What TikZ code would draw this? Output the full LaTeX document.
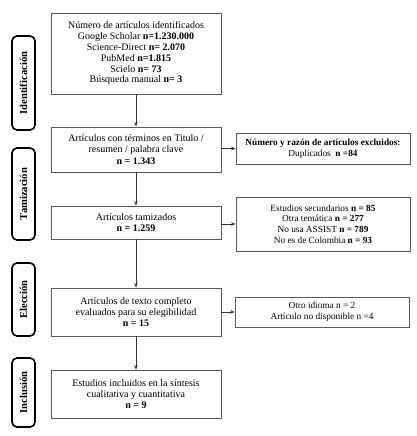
\documentclass[tikz,border=0pt]{standalone}
\usepackage{fontspec}
\setmainfont{Liberation Serif}
\usetikzlibrary{arrows.meta}
\begin{document}
\begin{tikzpicture}[x=1pt,y=-1pt,
  mainbox/.style={draw=black!65,line width=0.8pt,minimum width=170pt,align=center,inner sep=1pt,
    font=\fontsize{10}{11.2}\selectfont},
  sidebox/.style={draw=black!65,line width=0.8pt,minimum width=174pt,align=center,inner sep=1pt,
    font=\fontsize{9.3}{10.6}\selectfont},
  phase/.style={draw=black,line width=1.6pt,rounded corners=5pt,minimum height=23pt,inner sep=0pt,
    rotate=90,font=\fontsize{10.6}{12}\selectfont\bfseries},
  arr/.style={-{Stealth[length=4.5pt,width=3.5pt]},black!80,line width=0.8pt}]
\useasboundingbox (0,0) rectangle (417,436);
\fill[white] (0,0) rectangle (417,436);
% main column
\node[mainbox,minimum height=81pt,font=\fontsize{10}{10.8}\selectfont] (b1) at (136,53.5)
  {Número de artículos identificados\\
   Google Scholar \textbf{n=1.230.000}\\
   Science-Direct \textbf{n= 2.070}\\
   PubMed \textbf{n=1.815}\\
   Scielo \textbf{n= 73}\\
   Búsqueda manual \textbf{n= 3}};
\node[mainbox,minimum height=45pt] (b2) at (136,149.5)
  {Artículos con términos en Titulo /\\ resumen / palabra clave\\ \textbf{n = 1.343}};
\node[mainbox,minimum height=33pt] (b3) at (136,222.5)
  {Artículos tamizados\\ \textbf{n = 1.259}};
\node[mainbox,minimum height=48pt] (b4) at (136,312)
  {Artículos de texto completo\\ evaluados para su elegibilidad\\ \textbf{n = 15}};
\node[mainbox,minimum height=48pt] (b5) at (136,394)
  {Estudios incluidos en la síntesis\\ cualitativa y cuantitativa\\ \textbf{n = 9}};
% side boxes
\node[sidebox,minimum height=31pt] (ea) at (323,148.5)
  {\textbf{Número y razón de artículos excluidos:}\\ Duplicados\ \ \textbf{n =84}};
\node[sidebox,minimum height=54pt] (eb) at (323,224)
  {Estudios secundarios \textbf{n = 85}\\ Otra temática \textbf{n = 277}\\
   No usa ASSIST \textbf{n = 789}\\ No es de Colombia \textbf{n = 93}};
\node[sidebox,minimum height=30pt] (ec) at (322,312)
  {Otro idioma n = 2\\ Artículo no disponible n =4};
% phase labels
\node[phase,minimum width=94pt] (p1) at (23.5,83) {Identificación};
\node[phase,minimum width=92pt] (p2) at (23.5,194) {Tamización};
\node[phase,minimum width=73pt] (p3) at (23.5,299.5) {Elección};
\node[phase,minimum width=69pt] (p4) at (23.5,392.5) {Inclusión};
% arrows
\draw[arr] (b1) -- (b2);
\draw[arr] (b2) -- (b3);
\draw[arr] (b3) -- (b4);
\draw[arr] (b4) -- (b5);
\draw[arr] (b2.east |- ea.west) -- (ea.west);
\draw[arr] (b3.east |- eb.west) -- (eb.west);
\draw[arr] (b4.east |- ec.west) -- (ec.west);
\end{tikzpicture}
\end{document}
